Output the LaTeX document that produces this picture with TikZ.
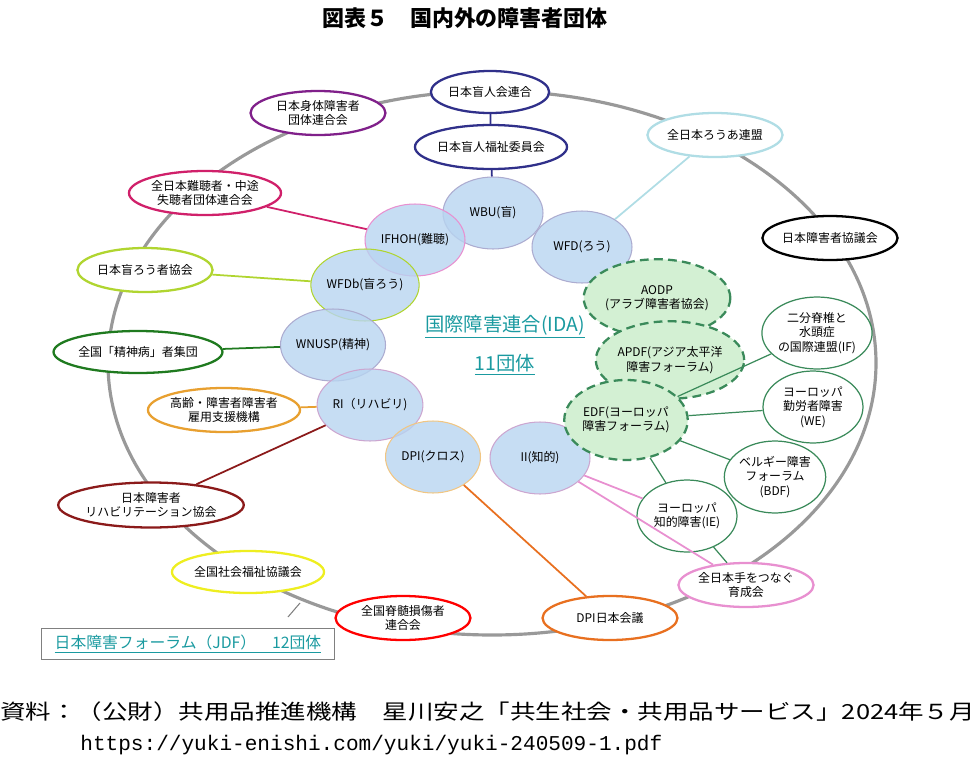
\documentclass[tikz,border=0pt]{standalone}
\usepackage{fontspec}
\setmainfont{Noto Sans CJK JP}
\setmonofont{Liberation Mono}
\usetikzlibrary{shapes.geometric}
\definecolor{navyb}{HTML}{30308A}
\definecolor{purp}{HTML}{80208A}
\definecolor{crim}{HTML}{D0206A}
\definecolor{ygreen}{HTML}{B0D530}
\definecolor{dgreen}{HTML}{1F7A1F}
\definecolor{orng}{HTML}{E8A030}
\definecolor{dorng}{HTML}{E87020}
\definecolor{dred}{HTML}{8B1A1A}
\definecolor{yel}{HTML}{EEEE20}
\definecolor{pnk}{HTML}{E890D0}
\definecolor{lcyan}{HTML}{B0DDE5}
\definecolor{bluefill}{HTML}{B8D4F0}
\definecolor{greenfill}{HTML}{D3F0D3}
\definecolor{egreen}{HTML}{3A8A5A}
\definecolor{teal2}{HTML}{1A9AA0}
\tikzset{
  org/.style={ellipse, draw=#1, fill=white, line width=1.3pt, inner sep=0pt,
    minimum width=2.7cm, minimum height=0.88cm, align=center,
    font=\fontsize{6.8}{8.2}\selectfont},
  intl/.style={ellipse, draw=#1, fill=bluefill, fill opacity=0.8, text opacity=1,
    line width=0.6pt, inner sep=0pt, minimum width=2cm, minimum height=1.44cm,
    align=center, font=\fontsize{6.8}{8.2}\selectfont},
  region/.style={ellipse, draw=egreen, dashed, dash pattern=on 5pt off 3pt,
    fill=greenfill, line width=1.3pt, inner sep=0pt, minimum width=2cm,
    minimum height=1.55cm, align=center, font=\fontsize{6.8}{8.2}\selectfont},
  euro/.style={ellipse, draw=egreen, fill=white, line width=0.7pt, inner sep=0pt,
    minimum width=2cm, minimum height=1.44cm, align=center,
    font=\fontsize{6.8}{8.2}\selectfont},
  link/.style={line width=1pt, draw=#1},
}
\begin{document}
\begin{tikzpicture}[x=0.02cm, y=-0.02cm]
  \useasboundingbox (0,0) rectangle (978,761);
  % title and source
  \node[font=\fontsize{12.5}{14}\selectfont\bfseries] (title) at (465,18) {図表５　国内外の障害者団体};
  \node[anchor=west, inner sep=0, font=\fontsize{11.8}{13}\selectfont] (src) at (0,712) {\scalebox{1.23}[1]{資料：（公財）共用品推進機構　星川安之「共生社会・共用品サービス」2024年５月}};
  \node[anchor=west, inner sep=0, font=\fontsize{12}{13}\selectfont\ttfamily] (url) at (80,745) {https://yuki-enishi.com/yuki/yuki-240509-1.pdf};
  % outer ring
  \draw[gray!80, line width=1.8pt] (492,363) ellipse [x radius=384, y radius=272];
  \draw[gray, line width=0.6pt] (288,617) -- (300,603);
  % international members
  \node[intl=navyb!40] (wbu) at (493,213) {WBU(盲)};
  \node[intl=pnk] (ifhoh) at (415,240) {IFHOH(難聴)};
  \node[intl=navyb!40] (wfd) at (582,247) {WFD(ろう)};
  \node[intl=ygreen] (wfdb) at (365,285) {WFDb(盲ろう)};
  \node[intl=navyb!40] (wnusp) at (333,345) {WNUSP(精神)};
  \node[intl=purp!40] (ri) at (370,405) {RI（リハビリ)};
  \node[intl=orng!60, minimum width=1.9cm] (dpix) at (433,457) {DPI(クロス)};
  \node[intl=purp!40] (ii) at (540,458) {II(知的)};
  \node[region] (aodp) at (657,298) {AODP\\(アラブ障害者協会)};
  \node[region, minimum width=1.9cm] (apdf) at (670,360) {APDF(アジア太平洋\\障害フォーラム)};
  \node[region, minimum width=1.9cm, minimum height=1.6cm] (edf) at (626,420) {EDF(ヨーロッパ\\障害フォーラム)};
  \node[euro] (ifsb) at (817,333) {二分脊椎と\\水頭症\\の国際連盟(IF)};
  \node[euro] (we) at (813,407) {ヨーロッパ\\勤労者障害\\(WE)};
  \node[euro] (bdf) at (775,477) {ベルギー障害\\フォーラム\\(BDF)};
  \node[euro] (ie) at (687,516) {ヨーロッパ\\知的障害(IE)};
  \node[text=teal2, font=\fontsize{11}{13}\selectfont\itshape] (ida) at (505,327) {\underline{国際障害連合(IDA)}};
  \node[text=teal2, font=\fontsize{11}{13}\selectfont\itshape] (n11) at (505,365) {\underline{11団体}};
  % domestic members
  \node[org=navyb, minimum width=2.1cm, minimum height=0.84cm] (jfb) at (490,92) {日本盲人会連合};
  \node[org=navyb, minimum width=2.2cm] (jbwc) at (491,147) {日本盲人福祉委員会};
  \node[org=purp] (jpd) at (318,113) {日本身体障害者\\団体連合会};
  \node[org=crim, minimum width=2.6cm] (zennan) at (205,193) {全日本難聴者・中途\\失聴者団体連合会};
  \node[org=ygreen] (jdb) at (145,270) {日本盲ろう者協会};
  \node[org=dgreen, minimum height=0.84cm] (seishin) at (138,352) {全国「精神病」者集団};
  \node[org=orng] (jeed) at (224,410) {高齢・障害者障害者\\雇用支援機構};
  \node[org=dred, minimum height=0.9cm] (jsrpd) at (151,505) {日本障害者\\リハビリテーション協会};
  \node[org=yel, minimum width=2.6cm, minimum height=0.84cm] (shakyo) at (248,572) {全国社会福祉協議会};
  \node[org=red] (sekison) at (403,618) {全国脊髄損傷者\\連合会};
  \node[org=dorng] (dpij) at (610,618) {DPI日本会議};
  \node[org=pnk] (ikusei) at (746,585) {全日本手をつなぐ\\育成会};
  \node[org=lcyan] (jfd) at (715,135) {全日本ろうあ連盟};
  \node[org=black] (jd) at (830,238) {日本障害者協議会};
  % connectors
  \draw[link=navyb] (jfb) -- (jbwc);
  \draw[link=navyb] (jbwc) -- (wbu);
  \draw[link=crim] (zennan) -- (ifhoh);
  \draw[link=ygreen] (jdb) -- (wfdb);
  \draw[link=dgreen] (seishin) -- (wnusp);
  \draw[link=orng] (jeed) -- (ri);
  \draw[link=dred] (jsrpd) -- (ri);
  \draw[link=lcyan] (jfd) -- (wfd);
  \draw[link=dorng] (dpix) -- (dpij);
  \draw[link=pnk] (ii) -- (ikusei);
  \draw[link=pnk] (ii) -- (ie);
  \draw[link=egreen, line width=0.7pt] (edf) -- (ifsb);
  \draw[link=egreen, line width=0.7pt] (edf) -- (we);
  \draw[link=egreen, line width=0.7pt] (edf) -- (bdf);
  \draw[link=egreen, line width=0.7pt] (edf) -- (ie);
  \draw[link=egreen, line width=0.7pt] (ie) -- (ikusei);
  % JDF box
  \node[draw=gray, line width=0.6pt, minimum width=5.86cm, minimum height=0.62cm,
    text=teal2, font=\fontsize{9}{11}\selectfont] (jdf) at (188,644) {\underline{日本障害フォーラム（JDF）\quad 12団体}};
\end{tikzpicture}
\end{document}
